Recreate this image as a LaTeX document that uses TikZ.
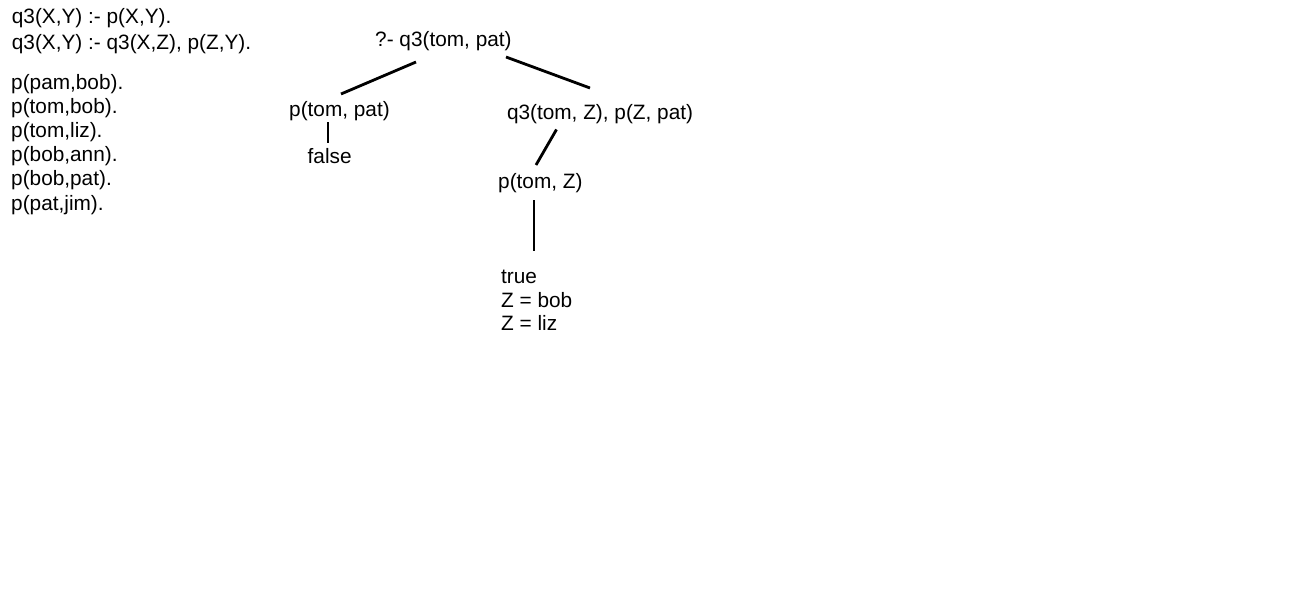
\documentclass[tikz,border=0pt]{standalone}
\usepackage{fontspec}
\setmainfont{Liberation Sans}
\begin{document}
\begin{tikzpicture}[x=1pt,y=-1pt,
  txt/.style={inner sep=0pt,anchor=base west,font=\fontsize{20.8}{24.2}\selectfont},
  edge/.style={line width=2.8pt,line cap=butt}]
\useasboundingbox[fill=white] (0,0) rectangle (1300,600);
% program
\node[txt] (rule1) at (11.7,23.3) {q3(X,Y) :- p(X,Y).};
\node[txt] (rule2) at (11.7,49) {q3(X,Y) :- q3(X,Z), p(Z,Y).};
\node[txt] (facts) at (11,89.3) {\vtop{\baselineskip=24.15pt
  \hbox{p(pam,bob).}\hbox{p(tom,bob).}\hbox{p(tom,liz).}\hbox{p(bob,ann).}\hbox{p(bob,pat).}\hbox{p(pat,jim).}}};
% tree
\node[txt] (root) at (375,46.5) {?- q3(tom, pat)};
\node[txt] (left) at (289,116.5) {p(tom, pat)};
\node[txt] (false) at (307.5,163) {false};
\node[txt] (right) at (506.8,119.3) {q3(tom, Z), p(Z, pat)};
\node[txt] (pz) at (498,188) {p(tom, Z)};
\node[txt] (result) at (501,283.3) {\vtop{\baselineskip=23.7pt
  \hbox{true}\hbox{Z = bob}\hbox{Z = liz}}};
% connector ends
\coordinate (rootL) at (416,62);
\coordinate (leftT) at (341,94);
\coordinate (rootR) at (506,57);
\coordinate (rightT) at (590,88);
\coordinate (leftB) at (328,122);
\coordinate (falseT) at (328,143);
\coordinate (rightB) at (556.5,129.5);
\coordinate (pzT) at (536,165);
\coordinate (pzB) at (534,200);
\coordinate (resT) at (534,251);
\draw[edge] (rootL) -- (leftT);
\draw[edge] (rootR) -- (rightT);
\draw[edge] (leftB) -- (falseT);
\draw[edge] (rightB) -- (pzT);
\draw[edge] (pzB) -- (resT);
\end{tikzpicture}
\end{document}
